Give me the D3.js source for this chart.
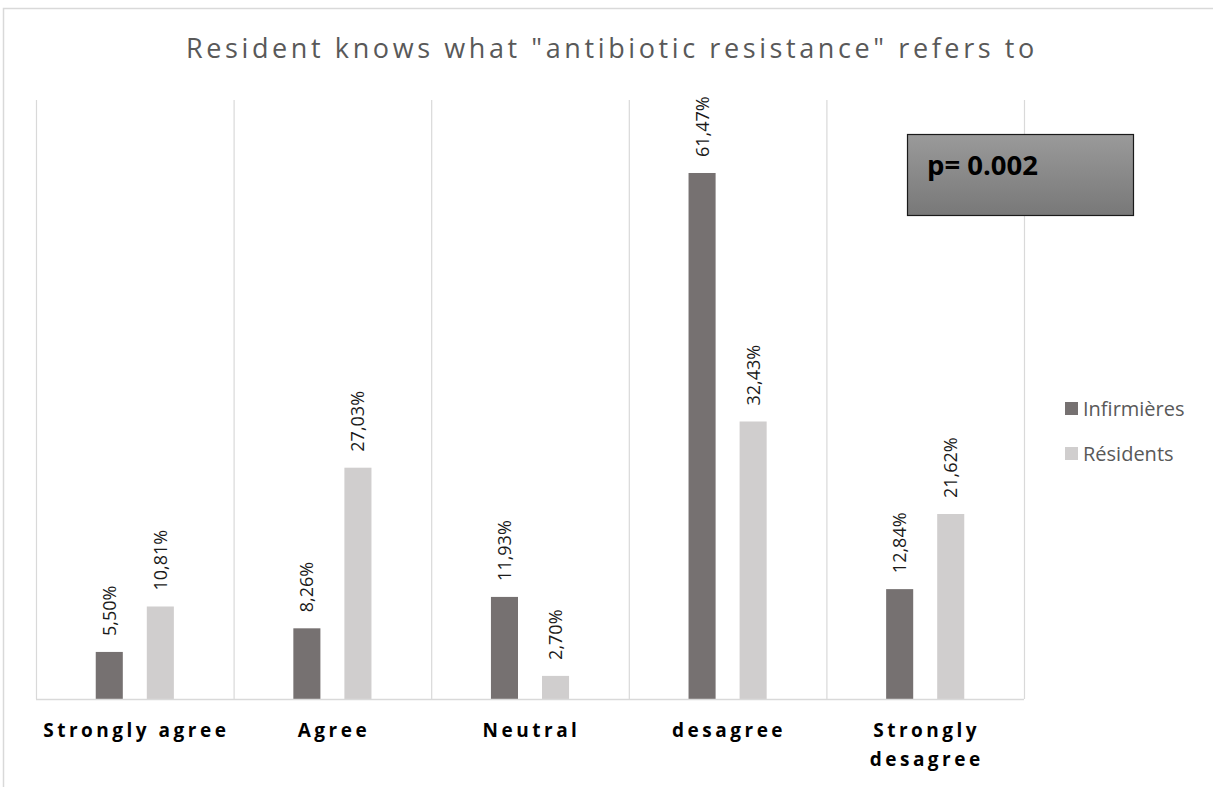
<!DOCTYPE html>
<html>
<head>
<meta charset="utf-8">
<script src="https://cdn.jsdelivr.net/npm/d3@7"></script>
<style>
  html, body { margin: 0; padding: 0; background: #fff; }
  svg { display: block; }
</style>
</head>
<body>
<svg id="chart" width="1213" height="787"></svg>
<script>
// Survey answers by group
const categories = ["Strongly agree", "Agree", "Neutral", "desagree", "Strongly desagree"];
const series = ["Infirmières", "Résidents"];
const infirmieres = [5.50, 8.26, 11.93, 61.47, 12.84];
const residents = [10.81, 27.03, 2.70, 32.43, 21.62];
const seriesColors = ["#767171", "#d0cece"];
const titleText = 'Resident knows what "antibiotic resistance" refers to';
const pValueText = "p= 0.002";

const values = [infirmieres, residents];
const svg = d3.select("#chart");
const FONT = "'Open Sans', sans-serif";

const plot = { left: 36, right: 1024, top: 100, bottom: 699 };

// Chart frame (top and left edges visible)
svg.append("path")
  .attr("d", "M3.5,787 L3.5,8.5 L1213,8.5")
  .attr("fill", "none")
  .attr("stroke", "#d9d9d9")
  .attr("stroke-width", 1.5);

const x = d3.scaleBand().domain(categories).range([plot.left, plot.right]).padding(0);
const xs = d3.scaleBand().domain(series).range([0, x.bandwidth()])
  .paddingInner(0.47).paddingOuter(1.17);
const y = d3.scaleLinear().domain([0, 70]).range([plot.bottom, plot.top]);

// Vertical gridlines at category boundaries
const bounds = categories.map(c => x(c)).concat([plot.right]);
svg.append("g").selectAll("line").data(bounds).join("line")
  .attr("x1", d => d + 0.5).attr("x2", d => d + 0.5)
  .attr("y1", plot.top).attr("y2", plot.bottom)
  .attr("stroke", "#d9d9d9").attr("stroke-width", 1.2);

// Bars with rotated value labels
const groups = svg.append("g").selectAll("g").data(categories).join("g")
  .attr("transform", c => `translate(${x(c)},0)`);

groups.each(function(c, i) {
  const g = d3.select(this);
  series.forEach((s, si) => {
    const v = values[si][i];
    g.append("rect")
      .attr("x", xs(s)).attr("width", xs.bandwidth())
      .attr("y", y(v)).attr("height", y(0) - y(v))
      .attr("fill", seriesColors[si]);
    const lx = xs(s) + xs.bandwidth() / 2;
    const ly = y(v) - 16;
    g.append("text")
      .attr("transform", `translate(${lx + 6.5},${ly}) rotate(-90)`)
      .attr("font-family", FONT)
      .attr("font-size", 18)
      .attr("fill", "#1a1a1a")
      .text(v.toFixed(2).replace(".", ",") + "%");
  });
});

// Category axis line
svg.append("line")
  .attr("x1", plot.left).attr("x2", plot.right)
  .attr("y1", plot.bottom + 0.5).attr("y2", plot.bottom + 0.5)
  .attr("stroke", "#d9d9d9").attr("stroke-width", 1.5);

// Category labels
const catLines = { "Strongly desagree": ["Strongly", "desagree"] };
categories.forEach(c => {
  const lines = catLines[c] || [c];
  const cx = x(c) + x.bandwidth() / 2;
  const t = svg.append("text")
    .attr("x", cx)
    .attr("y", 737)
    .attr("text-anchor", "middle")
    .attr("font-family", FONT)
    .attr("font-weight", "bold")
    .attr("font-size", 19)
    .attr("letter-spacing", 3.5)
    .attr("fill", "#000");
  lines.forEach((l, k) => {
    t.append("tspan").attr("x", cx + 1.5).attr("dy", k === 0 ? 0 : 29).text(l);
  });
});

// Title
svg.append("text")
  .attr("x", 612).attr("y", 58)
  .attr("text-anchor", "middle")
  .attr("font-family", FONT)
  .attr("font-size", 27)
  .attr("letter-spacing", 3.6)
  .attr("fill", "#595959")
  .text(titleText);

// Legend
const legend = svg.append("g").attr("transform", "translate(1065,0)");
series.forEach((s, si) => {
  const top = 402 + si * 45;
  legend.append("rect")
    .attr("x", 0).attr("y", top).attr("width", 13).attr("height", 13)
    .attr("fill", seriesColors[si]);
  legend.append("text")
    .attr("x", 18).attr("y", top + 14)
    .attr("font-family", FONT)
    .attr("font-size", 20)
    .attr("fill", "#595959")
    .text(s);
});

// p-value box
const defs = svg.append("defs");
const grad = defs.append("linearGradient").attr("id", "pgrad")
  .attr("x1", 0).attr("y1", 0).attr("x2", 0).attr("y2", 1);
grad.append("stop").attr("offset", "0%").attr("stop-color", "#9a9a9a");
grad.append("stop").attr("offset", "100%").attr("stop-color", "#787878");

svg.append("rect")
  .attr("x", 907.5).attr("y", 134.5).attr("width", 226).attr("height", 81)
  .attr("fill", "url(#pgrad)")
  .attr("stroke", "#1a1a1a").attr("stroke-width", 1.2);
svg.append("text")
  .attr("x", 927).attr("y", 175)
  .attr("font-family", FONT)
  .attr("font-weight", "bold")
  .attr("font-size", 27.5)
  .attr("fill", "#000")
  .text(pValueText);
</script>
</body>
</html>
